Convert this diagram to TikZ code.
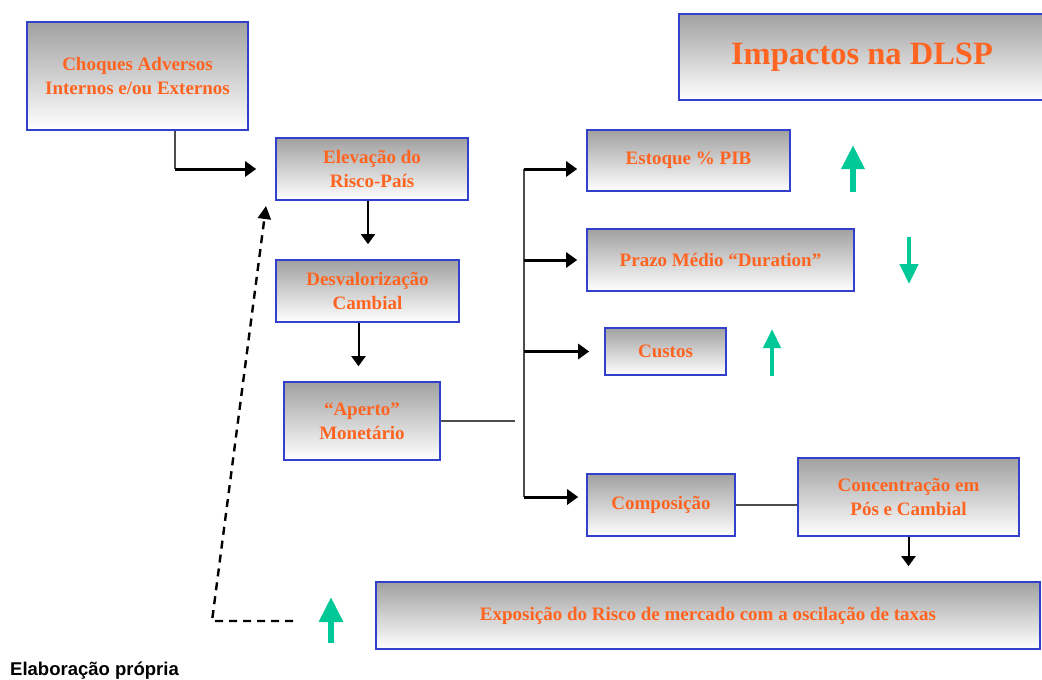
\documentclass[tikz,border=0pt]{standalone}
\usepackage{fontspec}
\setmainfont{Liberation Serif}
\newfontfamily\notefont{Liberation Sans}
\usetikzlibrary{arrows.meta}
\usetikzlibrary{calc}

\definecolor{boxblue}{HTML}{3340CC}
\definecolor{labelorange}{HTML}{FF6420}
\definecolor{trendgreen}{HTML}{00C896}

\tikzset{
  impact/.style={draw=boxblue, line width=1.6pt, top color=black!37, bottom color=white,
    text=labelorange, align=center, inner sep=0pt, font=\bfseries\fontsize{19}{24}\selectfont},
  heavy/.style={line width=3pt, -{Triangle[width=15pt,length=11pt]}},
  light/.style={line width=2pt, -{Triangle[width=14pt,length=10pt]}},
  bus/.style={line width=1.3pt, black!70},
  feedback/.style={line width=2.4pt, dash pattern=on 8pt off 6pt, -{Triangle[width=13pt,length=13pt]}},
  trend/.style 2 args={trendgreen, line width=#1, -{Triangle[width=#2,length=#2+2pt]}},
}

\begin{document}
\begin{tikzpicture}[x=1pt,y=-1pt]
\useasboundingbox (0,0) rectangle (1042,680);

% left column
\node[impact, minimum width=221pt, minimum height=108pt] (choques) at (137.5,76) {Choques Adversos\\Internos e/ou Externos};
\node[impact, minimum width=192pt, minimum height=62pt] (elevacao) at (372,169) {Elevação do\\Risco-País};
\node[impact, minimum width=183pt, minimum height=62pt] (desvalorizacao) at (367.5,291) {Desvalorização\\Cambial};
\node[impact, minimum width=156pt, minimum height=78pt] (aperto) at (362,421) {“Aperto”\\Monetário};

% right column
\node[impact, minimum width=366pt, minimum height=86pt, font=\bfseries\fontsize{32.5}{36}\selectfont] (titulo) at (862,57) {Impactos na DLSP};
\node[impact, minimum width=203pt, minimum height=61pt] (estoque) at (688.5,160.5) {Estoque \% PIB};
\node[impact, minimum width=267pt, minimum height=62pt] (prazo) at (720.5,260) {Prazo Médio “Duration”};
\node[impact, minimum width=121pt, minimum height=47pt] (custos) at (665.5,351.5) {Custos};
\node[impact, minimum width=148pt, minimum height=62pt] (composicao) at (661,505) {Composição};
\node[impact, minimum width=221pt, minimum height=78pt] (concentracao) at (908.5,497) {Concentração em\\Pós e Cambial};
\node[impact, minimum width=664pt, minimum height=67pt] (exposicao) at (708,615.5) {Exposição do Risco de mercado com a oscilação de taxas};

\node[anchor=base west, inner sep=0pt, font=\notefont\bfseries\fontsize{18.5}{22}\selectfont] (fonte) at (10,675) {Elaboração própria};

% connectors
\coordinate (drop) at (175,169);
\draw[bus] (choques.south -| drop) -- (drop);
\draw[heavy, shorten >=19pt] (drop) -- (elevacao.west);
\draw[light, shorten >=15pt] ([xshift=-4pt]elevacao.south) -- ([xshift=-4pt]elevacao.south |- desvalorizacao.north);
\draw[light, shorten >=15pt] ([xshift=-9pt]desvalorizacao.south) -- ([xshift=-9pt]desvalorizacao.south |- aperto.north);

\coordinate (bus top) at (524,169);
\coordinate (bus end) at (524,497);
\coordinate (aperto end) at (515,421);
\draw[bus] (aperto.east) -- (aperto end);
\draw[bus] (bus top) -- (bus end);
\draw[heavy, shorten >=9pt] (bus top) -- (bus top -| estoque.west);
\draw[heavy, shorten >=9pt] (bus top |- prazo.west) -- (prazo.west);
\draw[heavy, shorten >=15pt] (bus top |- custos.west) -- (custos.west);
\draw[heavy, shorten >=8pt] (bus end) -- (bus end -| composicao.west);

\draw[bus] (composicao.east) -- (composicao.east -| concentracao.west);
\draw[light, shorten >=15pt] (concentracao.south) -- (concentracao.south |- exposicao.north);

% feedback loop
\coordinate (loop start) at (293,621);
\coordinate (loop corner) at (212,621);
\coordinate (loop end) at (266,206);
\draw[feedback] (loop start) -- (loop corner) -- (loop end);

% trend arrows
\draw[trend={6pt}{22pt}] (853,192) -- (853,145);
\draw[trend={4.5pt}{18pt}] (909,237) -- (909,284);
\draw[trend={4.5pt}{17pt}] (772,376) -- (772,329);
\draw[trend={6pt}{23pt}] (331,643) -- (331,597);

\end{tikzpicture}
\end{document}
